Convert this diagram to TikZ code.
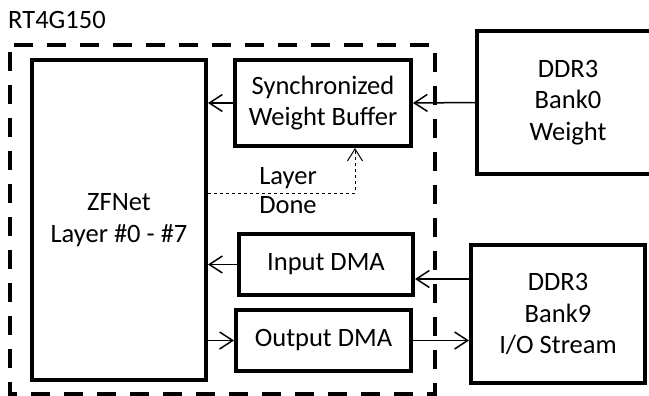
\documentclass[tikz,border=0pt]{standalone}
\usepackage{fontspec}
\setmainfont{Carlito}
\usepackage{tikz}
\usetikzlibrary{arrows.meta,positioning}

\begin{document}
\begin{tikzpicture}[x=1pt,y=-1pt,
		font=\fontsize{26.5}{31.5}\selectfont,
		block/.style={draw,line width=4pt,align=center,inner sep=0pt},
		link/.style={line width=1.5pt,-{Straight Barb[length=13pt,width=17pt,line width=1.5pt]}},
		done/.style={dashed,line width=1pt,-{Straight Barb[length=12pt,width=15pt,line width=1pt]}}]
		\useasboundingbox (0,0) rectangle (649,396);
		\node[anchor=base west,inner sep=0pt] (chip) at (8,29) {RT4G150};
		\draw[line width=4pt,dash pattern=on 19pt off 14pt,dash phase=26pt] (10,45) rectangle (435,394);
		\node[block,minimum width=174pt,minimum height=320pt] (zfnet) at (119,220) {ZFNet\\Layer \#0 - \#7};
		\node[block,minimum width=176pt,minimum height=86pt] (swb) at (323,103) {Synchronized\\Weight Buffer};
		\node[block,minimum width=174pt,minimum height=61pt] (indma) at (326,264.5) {Input DMA};
		\node[block,minimum width=175pt,minimum height=61pt] (outdma) at (323.5,340.5) {Output DMA};
		\node[block,minimum width=182pt,minimum height=143pt] (bank0) at (568,102.5) {DDR3\\Bank0\\Weight};
		\node[block,minimum width=174pt,minimum height=138pt] (bank9) at (558,314) {DDR3\\Bank9\\I/O Stream};
		\draw[link] (bank0.west) -- (swb.east);
		\draw[link] (swb.west) -- (swb.west -| zfnet.east);
		\draw[link] (indma.west) -- (indma.west -| zfnet.east);
		\draw[link] ([yshift=-14.5pt]indma.east -| bank9.west) -- ([yshift=-14.5pt]indma.east);
		\draw[link] (outdma.west -| zfnet.east) -- (outdma.west);
		\draw[link] (outdma.east) -- (outdma.east -| bank9.west);
		\draw[done] ([yshift=27pt]zfnet.east) -| ([xshift=32pt]swb.south);
		\node[anchor=base,inner sep=0pt] (layer) at (288,185) {Layer};
		\node[anchor=base,inner sep=0pt] (layerdone) at (288,214) {Done};
	\end{tikzpicture}
\end{document}
